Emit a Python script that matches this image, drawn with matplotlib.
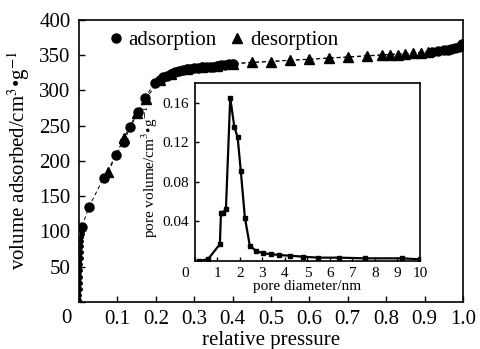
import numpy as np
import matplotlib
matplotlib.use('Agg')
import matplotlib.pyplot as plt
from matplotlib.lines import Line2D

plt.rcParams['font.family'] = ['Liberation Serif', 'DejaVu Serif']
plt.rcParams['mathtext.fontset'] = 'stix'

# nitrogen isotherm, micropore filling region (small marks)
low_p = [0.0005, 0.001, 0.0015, 0.002, 0.0025, 0.003, 0.0035, 0.004, 0.0045,
         0.005, 0.0055, 0.006, 0.0065, 0.007, 0.0075, 0.008]
low_v = [3, 10, 18, 27, 36, 45, 54, 63, 71, 79, 86, 92, 97, 101, 104, 107]

ads_p = [0.008, 0.026, 0.064, 0.096, 0.117, 0.133, 0.154, 0.172,
         0.198, 0.21, 0.22, 0.23, 0.24, 0.25, 0.26, 0.27, 0.28, 0.29, 0.30,
         0.31, 0.32, 0.33, 0.34, 0.35, 0.36, 0.37, 0.38, 0.39, 0.40,
         0.92, 0.935, 0.95, 0.96, 0.97, 0.98, 0.99, 0.997]
ads_v = [107, 135, 176, 208, 227, 248, 269, 290,
         311, 315, 319, 321, 324, 326, 327, 329, 330, 331, 332,
         332, 333, 333, 334, 334, 335, 336, 336, 337, 338,
         355, 356, 357, 358, 359, 360, 362, 366]

des_p = [0.997, 0.91, 0.89, 0.87, 0.85, 0.83, 0.81, 0.79, 0.75, 0.70,
         0.65, 0.60, 0.55, 0.50, 0.45, 0.40, 0.36, 0.32, 0.28, 0.24, 0.21,
         0.174, 0.151, 0.117, 0.076]
des_v = [366, 354, 353, 353, 352, 351, 351, 350, 349, 347,
         346, 344, 343, 341, 340, 338, 335, 333, 330, 324, 315,
         288, 268, 233, 184]

# pore size distribution
pore_d = [0.2, 0.59, 1.11, 1.16, 1.26, 1.38, 1.57, 1.75, 1.9, 2.04, 2.22,
          2.44, 2.71, 3.04, 3.36, 3.75, 4.22, 4.79, 5.48, 6.41, 7.56, 9.21, 10.0]
pore_v = [0.0, 0.002, 0.017, 0.049, 0.049, 0.053, 0.165, 0.136, 0.125, 0.091,
          0.044, 0.0155, 0.0104, 0.0077, 0.0071, 0.006, 0.0054, 0.0044,
          0.0034, 0.0034, 0.0027, 0.0027, 0.0017]

fig = plt.figure(figsize=(4.8, 3.49), dpi=100)
ax = fig.add_axes([0.1646, 0.1347, 0.8, 0.808])

ax.plot(low_p, low_v, color='k', lw=2.2, marker='o', ms=2.5)
ax.plot(ads_p, ads_v, color='k', ls=(0, (4, 3)), lw=0.7, marker='o', ms=6.5,
        mec='k', mfc='k')
ax.plot(des_p, des_v, color='k', ls=(0, (4, 3)), lw=0.7, marker='^', ms=7,
        mec='k', mfc='k')

ax.set_xlim(0, 1)
ax.set_ylim(0, 400)
ax.set_xticks(np.arange(0, 1.01, 0.1))
ax.set_xticklabels([''] + ['%.1f' % t for t in np.arange(0.1, 1.01, 0.1)])
ax.set_yticks(np.arange(0, 401, 50))
ax.set_yticklabels([''] + [str(t) for t in range(50, 401, 50)])
ax.tick_params(direction='in', length=4, width=1, labelsize=15, pad=6)
for s in ax.spines.values():
    s.set_linewidth(1.2)
ax.text(-0.034, -0.057, '0', transform=ax.transAxes, fontsize=15,
        ha='center', va='center')
ax.set_xlabel('relative pressure', fontsize=15, labelpad=1)
ax.set_ylabel(r'volume adsorbed/cm$^{3}$•g$^{-1}$', fontsize=15, labelpad=5)

handles = [Line2D([], [], color='k', marker='o', ls='none', ms=6.5),
           Line2D([], [], color='k', marker='^', ls='none', ms=7)]
ax.legend(handles, ['adsorption', 'desorption'], ncol=2, frameon=False,
          fontsize=15, loc='upper left', bbox_to_anchor=(0.02, 1.03),
          handletextpad=0.1, columnspacing=0.5, handlelength=1.0)

# inset
ins = fig.add_axes([0.406, 0.2521, 0.469, 0.51])
ins.plot(pore_d, pore_v, color='k', lw=1.6, marker='s', ms=3.5)
ins.set_xlim(0, 10)
ins.set_ylim(0, 0.18)
ins.set_xticks(range(0, 11))
ins.set_xticklabels([''] + [str(t) for t in range(1, 11)])
ins.set_yticks([0.04, 0.08, 0.12, 0.16])
ins.set_yticklabels(['0.04', '0.08', '0.12', '0.16'])
ins.tick_params(direction='in', length=3, width=1, labelsize=11, pad=4)
for s in ins.spines.values():
    s.set_linewidth(1.2)
ins.text(-0.045, -0.07, '0', transform=ins.transAxes, fontsize=11,
         ha='center', va='center')
ins.set_xlabel('pore diameter/nm', fontsize=11, labelpad=0)
ins.set_ylabel(r'pore volume/cm$^{3}$•g$^{-1}$', fontsize=11, labelpad=2)

fig.savefig('out.png', dpi=100)
